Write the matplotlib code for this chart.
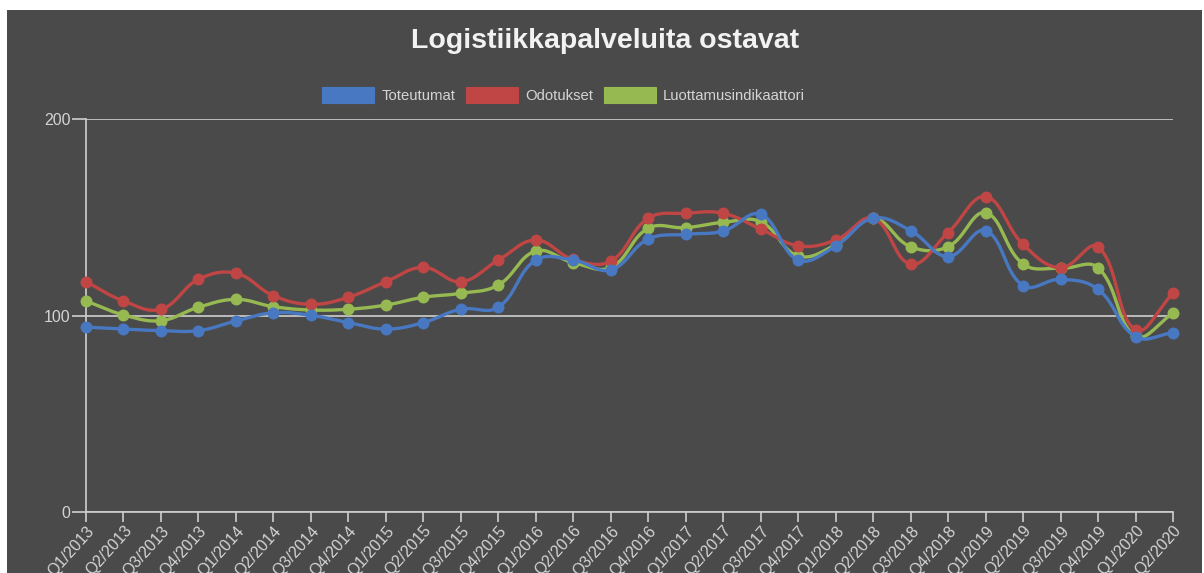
import numpy as np
import matplotlib
matplotlib.use("Agg")
import matplotlib.pyplot as plt
from matplotlib.patches import Rectangle, Patch

plt.rcParams['font.family'] = ['Liberation Sans', 'DejaVu Sans']

# ---------------- data ----------------
quarters = ["Q1/2013", "Q2/2013", "Q3/2013", "Q4/2013",
            "Q1/2014", "Q2/2014", "Q3/2014", "Q4/2014",
            "Q1/2015", "Q2/2015", "Q3/2015", "Q4/2015",
            "Q1/2016", "Q2/2016", "Q3/2016", "Q4/2016",
            "Q1/2017", "Q2/2017", "Q3/2017", "Q4/2017",
            "Q1/2018", "Q2/2018", "Q3/2018", "Q4/2018",
            "Q1/2019", "Q2/2019", "Q3/2019", "Q4/2019",
            "Q1/2020", "Q2/2020"]

toteutumat = [94.1, 93.1, 92.3, 92.3, 97.2, 101.4, 100.1, 96.4, 93.1, 96.4,
              103.2, 104.2, 128.2, 128.2, 123.2, 138.9, 141.3, 143.0, 151.5, 128.2,
              135.4, 149.5, 143.2, 130.0, 143.2, 115.2, 118.4, 113.3, 89.2, 91.2]

odotukset = [117.2, 107.4, 103.2, 118.4, 121.5, 110.1, 105.7, 109.3, 117.2, 124.5,
             117.2, 128.2, 138.4, 128.5, 127.7, 149.5, 152.0, 152.0, 144.0, 135.5,
             138.4, 149.5, 126.1, 142.2, 160.5, 136.2, 124.3, 135.0, 92.6, 111.3]

luottamus = [107.4, 100.3, 97.4, 104.2, 108.2, 104.5, 102.8, 103.2, 105.3, 109.3,
             111.3, 115.5, 132.8, 126.9, 124.5, 144.4, 144.7, 147.4, 147.7, 130.3,
             136.0, 149.5, 135.0, 135.0, 152.3, 126.2, 124.0, 124.3, 89.5, 101.1]

series_names = ["Toteutumat", "Odotukset", "Luottamusindikaattori"]
series_values = [toteutumat, odotukset, luottamus]
series_colors = ["#4878c2", "#bf4644", "#97b951"]

title = "Logistiikkapalveluita ostavat"

# ---------------- figure ----------------
W, H = 1204, 573
fig = plt.figure(figsize=(W / 100, H / 100), dpi=100, facecolor="white")
BG = "#4a4a4a"
fig.add_artist(Rectangle((7 / W, 0), (1202 - 7) / W, (H - 10) / H,
                         transform=fig.transFigure, facecolor=BG,
                         edgecolor="none", zorder=-10))

left, right, top, bottom = 86, 1173, 119, 512
ax = fig.add_axes([left / W, 1 - bottom / H, (right - left) / W, (bottom - top) / H])
ax.set_facecolor("none")

n = len(quarters)
xs = np.arange(n)
ax.set_xlim(0, n - 1)
ax.set_ylim(0, 200)

# pixel scales for Chart.js-like spline
sx = (right - left) / (n - 1)
sy = (bottom - top) / 200.0


def chartjs_spline(x, y, t=0.4, samples=20):
    px = np.asarray(x, float) * sx
    py = np.asarray(y, float) * sy
    m = len(px)
    cp_prev = np.zeros((m, 2))
    cp_next = np.zeros((m, 2))
    for i in range(m):
        p0 = np.array([px[max(i - 1, 0)], py[max(i - 1, 0)]])
        p1 = np.array([px[i], py[i]])
        p2 = np.array([px[min(i + 1, m - 1)], py[min(i + 1, m - 1)]])
        d01 = np.hypot(*(p1 - p0))
        d12 = np.hypot(*(p2 - p1))
        tot = d01 + d12
        s01 = d01 / tot if tot else 0
        s12 = d12 / tot if tot else 0
        cp_prev[i] = p1 - t * s01 * (p2 - p0)
        cp_next[i] = p1 + t * s12 * (p2 - p0)
    out_x, out_y = [px[0]], [py[0]]
    tt = np.linspace(0, 1, samples)[1:]
    for i in range(m - 1):
        P0 = np.array([px[i], py[i]])
        P1 = cp_next[i]
        P2 = cp_prev[i + 1]
        P3 = np.array([px[i + 1], py[i + 1]])
        for u in tt:
            b = ((1 - u) ** 3) * P0 + 3 * ((1 - u) ** 2) * u * P1 + 3 * (1 - u) * u ** 2 * P2 + u ** 3 * P3
            out_x.append(b[0])
            out_y.append(b[1])
    return np.array(out_x) / sx, np.array(out_y) / sy


# draw datasets: first dataset on top
for k in reversed(range(len(series_values))):
    vals = series_values[k]
    cx, cy = chartjs_spline(xs, vals)
    z = 10 + (len(series_values) - k) * 2
    ax.plot(cx, cy, color=series_colors[k], lw=2.4, zorder=z,
            solid_capstyle="round", clip_on=False)
    ax.plot(xs, vals, linestyle="none", marker="o", markersize=8.6,
            color=series_colors[k], markeredgewidth=0, zorder=z + 1, clip_on=False)

# axes styling
GRID = "#cfcfcf"
TXT = "#d4d4d4"
for s in ["top", "right"]:
    ax.spines[s].set_visible(False)
for s in ["left", "bottom"]:
    ax.spines[s].set_color(GRID)
    ax.spines[s].set_linewidth(1.2)

ax.set_yticks([0, 100, 200])
ax.set_yticklabels(["0", "100", "200"])
ax.yaxis.grid(True, color=GRID, linewidth=1.2)
ax.set_axisbelow(True)
ax.tick_params(axis="y", direction="out", length=10, width=1.2, color=GRID,
               labelcolor=TXT, labelsize=11.5, pad=1)

ax.set_xticks(xs)
ax.set_xticklabels(quarters, rotation=48, ha="right", va="top",
                   rotation_mode="anchor")
ax.tick_params(axis="x", direction="out", length=7, width=1.2, color=GRID,
               labelcolor=TXT, labelsize=11.5, pad=1)

# title
fig.text(605 / W, 1 - 41 / H, title, ha="center", va="center",
         fontsize=20.5, fontweight="bold", color="#f2f2f2")

# legend
handles = [Patch(facecolor=c, edgecolor=c, linewidth=0.8) for c in series_colors]
leg = fig.legend(handles, series_names, loc="center left",
                 bbox_to_anchor=(322 / W, 1 - 95 / H), ncol=3, frameon=False,
                 fontsize=10.7, handlelength=3.5, handleheight=1.25,
                 handletextpad=0.5, columnspacing=0.7, borderpad=0,
                 borderaxespad=0)
for t in leg.get_texts():
    t.set_color(TXT)

fig.savefig("out.png", dpi=100, facecolor=fig.get_facecolor())
